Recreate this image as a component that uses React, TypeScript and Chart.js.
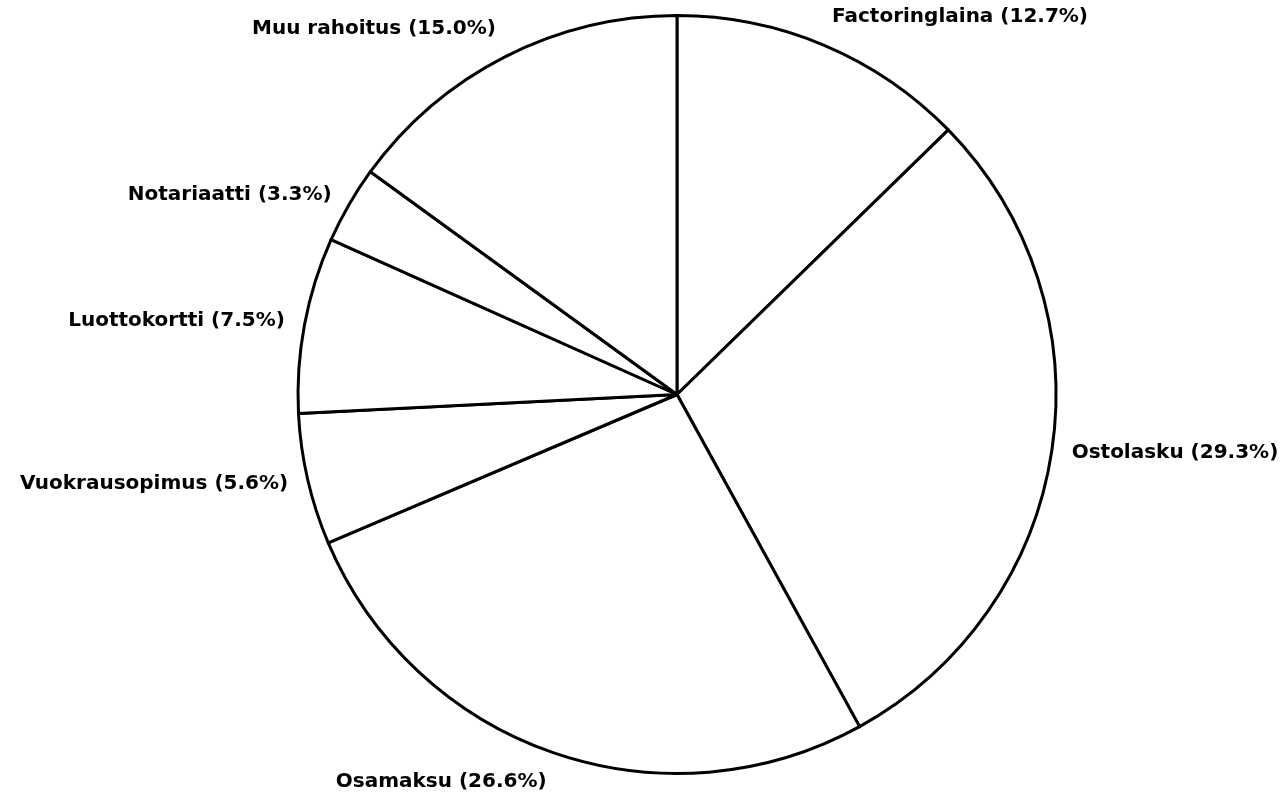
import React, { useEffect, useRef } from "react";
import { Chart, registerables } from "chart.js";

Chart.register(...registerables);

const categories = [
  "Factoringlaina",
  "Ostolasku",
  "Osamaksu",
  "Vuokrausopimus",
  "Luottokortti",
  "Notariaatti",
  "Muu rahoitus",
];
const shares = [12.7, 29.3, 26.6, 5.6, 7.5, 3.3, 15.0];

const outsideLabels = {
  id: "outsideLabels",
  afterDraw(chart: any) {
    const ctx = chart.ctx;
    const meta = chart.getDatasetMeta(0);
    ctx.save();
    ctx.fillStyle = "#000";
    ctx.font = "bold 20px 'DejaVu Sans', sans-serif";
    meta.data.forEach((arc: any, i: number) => {
      const { x, y, startAngle, endAngle, outerRadius } = arc.getProps(
        ["x", "y", "startAngle", "endAngle", "outerRadius"],
        true
      );
      const mid = (startAngle + endAngle) / 2;
      const r = outerRadius + 20;
      const px = x + Math.cos(mid) * r;
      const py = y + Math.sin(mid) * r;
      const s = Math.sin(mid);
      ctx.textAlign = Math.cos(mid) >= 0 ? "left" : "right";
      ctx.textBaseline = s < -0.6 ? "bottom" : s > 0.6 ? "top" : "middle";
      ctx.fillText(`${categories[i]} (${shares[i].toFixed(1)}%)`, px, py);
    });
    ctx.restore();
  },
};

export default function App() {
  const ref = useRef<HTMLCanvasElement>(null);
  useEffect(() => {
    document.body.style.margin = "0";
    const chart = new Chart(ref.current!, {
      type: "pie",
      data: {
        labels: categories,
        datasets: [
          {
            data: shares,
            backgroundColor: "#ffffff",
            borderColor: "#000000",
            borderWidth: 3,
            borderJoinStyle: "round",
          },
        ],
      },
      options: {
        animation: false,
        responsive: false,
        maintainAspectRatio: false,
        layout: { padding: { top: 14, bottom: 21, left: 200, right: 134 } },
        plugins: {
          legend: { display: false },
          tooltip: { enabled: false },
        },
      },
      plugins: [outsideLabels],
    });
    return () => chart.destroy();
  }, []);
  return (
    <div style={{ position: "fixed", left: 0, top: 0, width: 1288, height: 796, background: "#fff" }}>
      <canvas ref={ref} width={1288} height={796} />
    </div>
  );
}
